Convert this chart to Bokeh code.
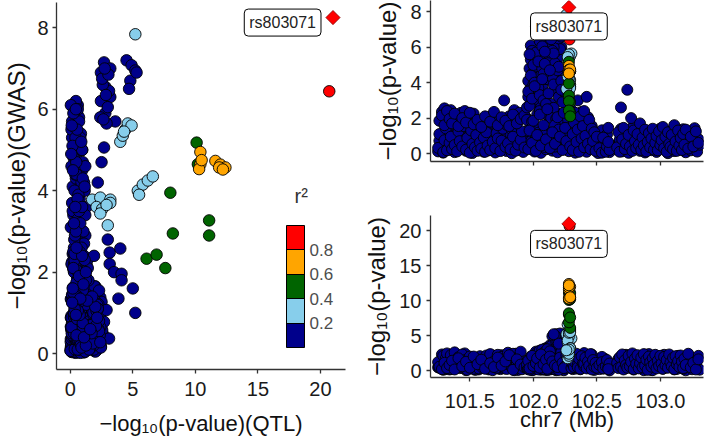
import pandas as pd
from bokeh.embed import file_html
from bokeh.layouts import column, row
from bokeh.models import (ColorBar, ColumnDataSource, FixedTicker, Label,
                          LinearColorMapper, PrintfTickFormatter, Range1d)
from bokeh.plotting import figure
from bokeh.resources import INLINE

FONT = "Liberation Sans"

# Lead variant of the locus
lead_snp = "rs803071"
lead_pos = 102.28
lead_gwas = 8.25
lead_qtl = 21.0

# SNPs in weak LD with the lead (r2 < 0.2): position (Mb), -log10 p GWAS, -log10 p QTL
left_flank_pos = [101.25, 101.26, 101.28, 101.29, 101.30, 101.30, 101.31, 101.32, 101.33, 101.34,
                  101.35, 101.35, 101.36, 101.37, 101.38, 101.39, 101.40, 101.41, 101.42, 101.43,
                  101.44, 101.45, 101.46, 101.47, 101.48, 101.49, 101.50, 101.51, 101.52, 101.53,
                  101.54, 101.55, 101.56, 101.57, 101.58, 101.59, 101.60, 101.61, 101.62, 101.63,
                  101.64, 101.65, 101.66, 101.67, 101.68, 101.69, 101.70, 101.71, 101.72, 101.73,
                  101.74, 101.75, 101.76, 101.77, 101.78, 101.79, 101.80, 101.81, 101.82, 101.83,
                  101.84, 101.85, 101.86, 101.87, 101.88, 101.89, 101.90, 101.91, 101.93, 101.94]
left_flank_gwas = [0.32, 1.10, 2.35, 0.08, 0.75, 2.55, 1.42, 0.18, 2.20, 0.60,
                   2.45, 0.95, 0.25, 1.80, 0.48, 2.10, 0.12, 1.25, 0.70, 2.30,
                   0.40, 1.55, 2.40, 0.22, 0.88, 1.95, 0.05, 1.30, 0.55, 2.25,
                   0.35, 1.05, 0.15, 1.60, 0.62, 0.28, 1.45, 0.90, 0.10, 1.20,
                   0.45, 2.05, 0.20, 1.75, 0.66, 2.20, 0.30, 1.15, 0.85, 1.90,
                   0.14, 0.72, 1.40, 3.00, 0.38, 1.62, 0.58, 2.10, 0.24, 1.35,
                   0.95, 2.45, 0.16, 1.70, 0.50, 2.30, 0.78, 1.25, 0.34, 2.05]
left_flank_qtl = [1.20, 0.40, 0.30, 2.10, 0.85, 0.55, 1.70, 2.45, 0.90, 0.15,
                  0.20, 2.20, 1.35, 0.60, 2.60, 0.75, 1.05, 1.90, 0.35, 0.45,
                  2.30, 0.80, 1.10, 1.55, 0.10, 1.00, 2.00, 0.50, 1.45, 0.25,
                  1.80, 0.65, 1.25, 0.30, 2.05, 0.95, 0.42, 1.60, 0.70, 2.15,
                  1.15, 0.28, 2.35, 0.90, 0.05, 0.60, 1.50, 0.38, 2.25, 1.20,
                  0.82, 1.95, 0.55, 0.70, 1.40, 0.22, 2.55, 0.85, 1.10, 0.48,
                  2.40, 0.35, 1.75, 1.05, 0.60, 0.95, 2.70, 0.18, 1.30, 1.10]

# Shoulder SNPs either side of the peak (moderate GWAS signal)
shoulder_pos = [101.26, 101.28, 101.30, 101.32, 101.34, 101.36, 101.38, 101.41, 101.44, 101.47,
                101.50, 101.53, 101.56, 101.59, 101.62, 101.66, 101.69, 101.72, 101.75, 101.78,
                101.81, 101.84, 101.87, 101.90, 101.93, 102.31, 102.33, 102.36, 102.38, 102.41,
                102.43, 102.46]
shoulder_gwas = [1.85, 2.15, 1.60, 2.40, 1.95, 1.70, 2.25, 1.55, 2.00, 1.75,
                 2.30, 1.65, 1.90, 1.50, 2.10, 1.80, 2.35, 1.60, 2.05, 1.85,
                 1.55, 2.20, 1.70, 1.95, 2.15, 1.90, 2.20, 1.65, 2.35, 1.80,
                 2.05, 1.55]
shoulder_qtl = [0.55, 0.20, 1.10, 0.35, 0.80, 1.40, 0.15, 1.75, 0.60, 1.25,
                0.40, 2.00, 0.90, 1.55, 0.25, 1.05, 0.50, 1.85, 0.70, 1.30,
                2.20, 0.10, 1.60, 0.85, 0.45, 1.15, 0.30, 1.95, 0.65, 1.45,
                0.75, 2.30]

# GWAS peak SNPs with little QTL signal
peak_pos = [101.95, 101.96, 101.96, 101.97, 101.97, 101.98, 101.98, 101.99, 101.99, 102.00,
            102.00, 102.01, 102.01, 102.02, 102.03, 102.03, 102.04, 102.05,
            102.06, 102.07, 102.08, 102.09, 102.10, 102.11, 102.12, 102.12, 102.13, 102.14,
            102.14, 102.15, 102.16, 102.17, 102.18, 102.18, 102.19, 102.20, 102.21, 102.22,
            102.23, 102.24,
            101.95, 101.96, 101.97, 101.98, 101.99, 102.00, 102.01, 102.02, 102.03, 102.04,
            102.05, 102.06, 102.07, 102.08, 102.09, 102.10, 102.11, 102.12, 102.13, 102.14,
            102.15, 102.16, 102.17, 102.18, 102.19, 102.20, 102.21, 102.22, 102.23, 102.24,
            101.97, 101.99, 102.01, 102.04, 102.08, 102.12, 102.16, 102.20, 102.22, 102.25]
peak_gwas = [2.6, 3.2, 4.1, 3.6, 4.8, 5.3, 6.1, 4.5, 5.8, 3.9,
             5.5, 2.9, 4.9, 3.4, 5.1, 4.3, 3.0, 2.4,
             4.4, 3.8, 5.6, 4.2, 5.9, 4.2, 6.0, 5.2, 5.7, 4.7,
             6.2, 5.4, 4.9, 3.6, 5.8, 6.1, 5.0, 5.6, 4.6, 6.0,
             5.3, 4.0,
             1.9, 3.5, 2.7, 4.4, 3.1, 5.0, 4.0, 5.7, 2.2, 3.7,
             3.3, 2.6, 4.8, 3.0, 5.3, 2.5, 4.6, 3.4, 5.5, 2.8,
             4.3, 3.9, 5.1, 2.3, 4.7, 3.2, 5.9, 4.1, 2.9, 3.5,
             5.6, 1.8, 3.8, 5.2, 4.5, 2.1, 6.0, 4.9, 3.6, 2.0]
peak_qtl = [0.30, 0.55, 0.20, 0.85, 0.40, 0.15, 0.60, 0.95, 0.35, 0.70,
            0.10, 1.20, 0.50, 0.25, 0.80, 0.45, 1.00, 0.65,
            0.40, 0.75, 0.20, 1.10, 0.55, 0.90, 0.30, 0.65, 0.15, 1.00,
            0.45, 0.85, 0.25, 1.30, 0.70, 0.05, 0.95, 0.35, 1.20, 0.60,
            0.80, 1.15,
            0.85, 0.20, 1.10, 0.50, 0.05, 0.95, 0.35, 0.70, 1.30, 0.15,
            0.60, 0.90, 0.28, 1.05, 0.42, 0.75, 0.10, 1.20, 0.55, 0.32,
            1.00, 0.65, 0.18, 1.35, 0.48, 0.80, 0.25, 1.15, 0.38, 0.70,
            0.12, 1.25, 0.58, 0.88, 0.22, 1.40, 0.45, 0.08, 0.95, 0.30]

# Peak SNPs carrying a moderate QTL signal
hump_pos = [102.02, 102.04, 102.06, 102.08, 102.10, 102.11, 102.12, 102.13, 102.15, 102.16,
            102.17, 102.15, 102.18, 102.19, 102.20, 102.21, 102.14, 102.22, 102.09, 102.13,
            102.07, 102.05, 102.10, 102.12, 102.16, 102.11, 102.14, 102.18, 102.19, 102.17,
            102.20, 102.16, 102.08, 102.09,
            102.03, 102.05, 102.07, 102.09, 102.11, 102.13]
hump_gwas = [7.15, 6.90, 6.55, 6.20, 6.30, 7.00, 5.90, 5.70, 5.80, 5.65,
             7.20, 7.08, 6.95, 6.70, 6.50, 6.90, 6.45, 6.60, 5.06, 4.70,
             4.20, 2.40, 2.80, 2.48, 2.58, 2.20, 2.00, 1.96, 1.80, 1.60,
             1.35, 1.00, 1.07, 0.37,
             6.75, 6.35, 6.05, 5.75, 6.85, 7.00]
hump_qtl = [2.70, 2.45, 2.80, 2.45, 3.20, 3.20, 2.80, 3.60, 2.40, 2.90,
            4.50, 4.90, 5.20, 4.80, 4.70, 5.30, 3.10, 2.60, 2.70, 2.50,
            2.20, 1.90, 3.00, 3.15, 4.00, 3.15, 3.50, 4.10, 4.10, 5.00,
            3.85, 5.20, 2.90, 3.10,
            2.55, 2.85, 3.00, 2.65, 3.05, 2.75]

# Background SNPs under the peak
peak_base_pos = [101.96, 101.97, 101.99, 102.00, 102.02, 102.03, 102.05, 102.06, 102.08, 102.10,
                 102.11, 102.13, 102.15, 102.17, 102.19, 102.21, 102.23, 102.25, 102.26, 102.24]
peak_base_gwas = [0.25, 1.30, 0.60, 1.85, 0.15, 1.05, 2.20, 0.45, 1.60, 0.80,
                  2.50, 0.30, 1.20, 0.55, 2.05, 0.95, 0.20, 1.45, 0.70, 2.30]
peak_base_qtl = [1.40, 0.30, 2.10, 0.65, 1.05, 1.75, 0.40, 2.30, 0.90, 1.55,
                 0.25, 2.00, 1.30, 0.75, 0.50, 1.85, 1.10, 0.60, 2.20, 0.35]

right_flank_pos = [102.29, 102.30, 102.31, 102.31, 102.32, 102.33, 102.34, 102.35, 102.35, 102.36,
                   102.37, 102.38, 102.39, 102.40, 102.40, 102.41, 102.42, 102.43, 102.44, 102.45,
                   102.46, 102.47, 102.48, 102.49, 102.50]
right_flank_gwas = [0.40, 2.45, 1.10, 0.20, 1.75, 2.30, 0.65, 1.35, 3.00, 0.10,
                    2.10, 0.85, 1.55, 0.35, 2.40, 1.00, 3.20, 0.55, 1.90, 0.25,
                    1.40, 0.70, 1.20, 0.15, 0.95]
right_flank_qtl = [1.60, 0.35, 2.20, 0.90, 0.50, 1.15, 2.40, 0.80, 0.45, 1.70,
                   0.25, 2.05, 1.00, 0.60, 0.95, 1.85, 0.30, 1.30, 0.70, 2.35,
                   0.15, 1.50, 0.55, 1.10, 0.40]

sparse_pos = [102.52, 102.54, 102.55, 102.57, 102.58, 102.59, 102.60, 102.59]
sparse_gwas = [0.30, 0.05, 0.90, 0.10, 0.40, 1.45, 0.20, 0.65]
sparse_qtl = [0.80, 1.20, 0.30, 0.60, 1.50, 0.45, 1.00, 0.20]

distal_pos = [102.66, 102.67, 102.68, 102.69, 102.70, 102.71, 102.72, 102.73, 102.74, 102.75,
              102.76, 102.77, 102.78, 102.79, 102.80, 102.81, 102.82, 102.83, 102.84, 102.85,
              102.86, 102.87, 102.88, 102.89, 102.90, 102.91, 102.92, 102.93, 102.94, 102.95,
              102.96, 102.97, 102.98, 102.99, 103.00, 103.01, 103.02, 103.03, 103.04, 103.05,
              103.06, 103.07, 103.08, 103.09, 103.10, 103.11, 103.12, 103.13, 103.14, 103.15,
              103.16, 103.17, 103.18, 103.19, 103.20, 103.22, 103.24, 103.26, 103.28, 103.30]
distal_gwas = [0.35, 1.20, 0.10, 2.60, 0.80, 1.45, 0.25, 0.55, 3.60, 1.05,
               0.40, 2.00, 0.15, 1.30, 0.70, 0.30, 1.10, 0.50, 1.70, 0.20,
               0.90, 0.45, 1.35, 0.12, 0.65, 1.15, 0.35, 0.85, 1.40, 0.22,
               0.60, 1.00, 0.18, 1.25, 0.48, 0.75, 1.50, 0.30, 0.95, 0.10,
               1.20, 0.55, 0.38, 1.05, 0.25, 1.60, 0.68, 0.15, 1.30, 0.45,
               0.88, 0.20, 1.10, 0.50, 1.35, 0.28, 0.95, 0.40, 1.25, 0.60]
distal_qtl = [1.10, 0.35, 1.90, 0.50, 2.30, 0.15, 1.45, 0.80, 0.40, 2.10,
              0.60, 1.25, 2.45, 0.20, 1.70, 0.95, 2.20, 0.30, 1.05, 1.85,
              0.45, 2.35, 0.70, 1.55, 0.10, 2.00, 1.20, 0.55, 1.75, 0.85,
              2.25, 0.30, 1.40, 0.65, 2.10, 1.00, 0.25, 1.95, 0.75, 1.50,
              0.40, 2.30, 1.15, 0.60, 1.80, 0.20, 2.05, 0.90, 1.35, 0.50,
              2.15, 1.25, 0.35, 1.70, 0.80, 2.40, 0.45, 1.10, 0.15, 1.60]

# The bulk of weakly associated SNPs across the whole window
bulk_pos = [101.25, 101.29, 101.34, 101.38, 101.43, 101.47, 101.52, 101.56, 101.61, 101.65,
            101.70, 101.74, 101.79, 101.83, 101.88, 101.92, 101.97, 102.01, 102.06, 102.10,
            102.15, 102.19, 102.24, 102.28, 102.33, 102.37, 102.42, 102.46, 102.51, 102.55,
            102.60, 102.66, 102.70, 102.75, 102.79, 102.84, 102.88, 102.93, 102.97, 103.02,
            103.06, 103.11, 103.15, 103.20, 103.24, 103.29,
            101.27, 101.31, 101.36, 101.40, 101.45, 101.49, 101.54, 101.58, 101.63, 101.67,
            101.72, 101.76, 101.81, 101.85, 101.90, 101.94, 101.99, 102.03, 102.08, 102.12,
            102.17, 102.21, 102.26, 102.30, 102.35, 102.39, 102.44, 102.48, 102.53, 102.57,
            102.67, 102.72, 102.77, 102.81, 102.86, 102.90, 102.95, 102.99, 103.04, 103.08,
            103.13, 103.17, 103.22, 103.26, 103.31,
            101.26, 101.30, 101.35, 101.39, 101.44, 101.48, 101.53, 101.57, 101.62, 101.66,
            101.71, 101.75, 101.80, 101.84, 101.89, 101.93, 101.98, 102.02, 102.07, 102.11,
            102.16, 102.20, 102.25, 102.29, 102.34, 102.38, 102.43, 102.47, 102.52, 102.56,
            102.68, 102.71, 102.76, 102.80, 102.85, 102.89, 102.94, 102.98, 103.03, 103.07,
            103.12, 103.16, 103.21, 103.25, 103.30,
            101.28, 101.32, 101.37, 101.41, 101.46, 101.50, 101.55, 101.59, 101.64, 101.68,
            101.73, 101.77, 101.82, 101.86, 101.91, 101.95, 102.00, 102.04, 102.09, 102.13,
            102.18, 102.22, 102.27, 102.31, 102.36, 102.40, 102.45, 102.49, 102.54, 102.58,
            102.69, 102.73, 102.78, 102.82, 102.87, 102.91, 102.96, 103.00, 103.05, 103.09,
            103.14, 103.18, 103.23, 103.27]
bulk_gwas = [0.12, 0.05, 0.22, 0.08, 0.30, 0.15, 0.03, 0.25, 0.10, 0.18,
             0.06, 0.28, 0.14, 0.02, 0.20, 0.09, 0.33, 0.11, 0.04, 0.24,
             0.16, 0.07, 0.29, 0.13, 0.05, 0.21, 0.10, 0.26, 0.03, 0.17,
             0.08, 0.23, 0.12, 0.04, 0.31, 0.15, 0.06, 0.19, 0.09, 0.27,
             0.02, 0.14, 0.22, 0.07, 0.18, 0.11,
             0.42, 0.55, 0.35, 0.60, 0.48, 0.38, 0.62, 0.45, 0.32, 0.57,
             0.40, 0.52, 0.64, 0.36, 0.50, 0.44, 0.58, 0.33, 0.47, 0.61,
             0.39, 0.54, 0.43, 0.63, 0.37, 0.51, 0.46, 0.59, 0.34, 0.49,
             0.56, 0.41, 0.60, 0.36, 0.53, 0.45, 0.38, 0.62, 0.47, 0.33,
             0.55, 0.42, 0.58, 0.40, 0.50,
             0.72, 0.88, 0.66, 0.95, 0.80, 0.70, 0.92, 0.76, 0.98, 0.68,
             0.85, 0.74, 0.90, 0.67, 0.82, 0.96, 0.71, 0.87, 0.78, 0.93,
             0.69, 0.84, 0.99, 0.75, 0.89, 0.73, 0.81, 0.94, 0.66, 0.86,
             0.77, 0.91, 0.70, 0.83, 0.97, 0.74, 0.88, 0.68, 0.79, 0.92,
             0.72, 0.85, 0.95, 0.76, 0.81,
             1.10, 1.35, 1.02, 1.48, 1.20, 1.05, 1.40, 1.15, 1.30, 1.08,
             1.45, 1.25, 1.12, 1.38, 1.03, 1.28, 1.50, 1.18, 1.33, 1.06,
             1.42, 1.22, 1.10, 1.36, 1.01, 1.27, 1.44, 1.14, 1.31, 1.07,
             1.39, 1.21, 1.47, 1.16, 1.34, 1.04, 1.26, 1.41, 1.11, 1.29,
             1.09, 1.37, 1.19, 1.43]
bulk_qtl = [0.45, 0.10, 0.80, 0.25, 1.05, 0.05, 0.60, 0.35, 0.95, 0.15,
            0.70, 0.20, 1.15, 0.40, 0.08, 0.85, 0.30, 0.55, 0.12, 1.00,
            0.22, 0.65, 0.04, 0.90, 0.38, 0.18, 0.75, 0.50, 1.10, 0.28,
            0.02, 0.62, 0.33, 0.88, 0.14, 0.48, 1.20, 0.07, 0.58, 0.26,
            0.82, 0.16, 0.44, 0.03, 0.68, 0.36,
            1.30, 0.20, 0.75, 1.55, 0.40, 0.95, 0.10, 1.70, 0.55, 1.15,
            0.30, 1.45, 0.65, 0.05, 1.25, 0.85, 0.25, 1.60, 0.45, 1.05,
            0.15, 1.35, 0.70, 1.80, 0.35, 0.90, 1.50, 0.08, 1.20, 0.60,
            1.65, 0.28, 1.00, 0.50, 1.40, 0.18, 0.80, 1.75, 0.42, 1.10,
            0.22, 1.58, 0.68, 1.28, 0.12,
            0.60, 1.90, 0.25, 1.35, 2.10, 0.80, 1.55, 0.15, 1.05, 1.85,
            0.45, 2.20, 0.95, 1.65, 0.35, 1.25, 2.00, 0.70, 1.45, 0.10,
            1.75, 0.55, 2.15, 1.10, 0.30, 1.95, 0.85, 1.50, 0.20, 1.70,
            1.00, 2.05, 0.40, 1.30, 0.65, 1.80, 0.05, 1.20, 2.25, 0.50,
            1.60, 0.90, 1.40, 0.18, 2.10,
            2.30, 0.40, 1.60, 0.85, 2.45, 1.20, 0.15, 1.90, 0.65, 2.15,
            1.05, 0.30, 1.75, 2.40, 0.55, 1.35, 0.90, 2.20, 0.10, 1.50,
            2.05, 0.75, 1.25, 0.20, 1.85, 2.50, 0.60, 1.10, 1.95, 0.35,
            1.40, 2.25, 0.80, 1.65, 0.05, 2.35, 1.00, 0.45, 1.80, 0.95,
            2.10, 0.25, 1.55, 0.70]
weak_ld_r2 = 0.05

# SNPs in LD with the lead variant
ld_pos = [102.26, 102.27, 102.28, 102.29, 102.30, 102.28, 102.27, 102.28, 102.29, 102.28,
          102.27, 102.29, 102.27, 102.28, 102.29, 102.28, 102.27, 102.28, 102.29, 102.28,
          102.26,
          102.28, 102.29, 102.28, 102.28, 102.29, 102.28, 102.29, 102.28, 102.29,
          102.28, 102.29, 102.28, 102.28, 102.29, 102.28, 102.28, 102.29, 102.28,
          102.285]
ld_gwas = [7.84, 5.20, 5.35, 5.50, 5.65, 5.60, 5.45, 4.00, 4.15, 4.25,
           4.35, 3.90, 3.78, 3.83, 3.78, 3.60, 3.55, 3.44, 3.70, 3.15,
           3.65,
           5.18, 4.65, 3.95, 3.27, 2.90, 2.95, 2.33, 2.43, 2.10,
           4.95, 4.65, 4.53, 4.73, 4.64, 4.57, 4.57, 4.75, 4.52,
           6.44]
ld_qtl = [5.20, 4.00, 4.20, 4.40, 4.60, 4.90, 4.30, 5.40, 5.80, 6.20,
          6.60, 5.50, 1.75, 2.40, 3.20, 2.10, 2.55, 2.40, 3.20, 3.00,
          2.90,
          10.1, 10.2, 8.0, 11.1, 11.1, 8.2, 6.1, 6.9, 7.6,
          10.4, 10.4, 10.3, 11.6, 12.0, 12.4, 11.9, 10.5, 12.2,
          20.7]
ld_r2 = [0.3] * 21 + [0.5] * 9 + [0.7] * 9 + [0.9]

r2_breaks = [0.2, 0.4, 0.6, 0.8]
r2_palette = ["#00008B", "#87CEEB", "#006400", "#FFA500", "#FF0000"]

# ---- assemble the SNP table ----
weak_groups = [
    (bulk_pos, bulk_gwas, bulk_qtl),
    (left_flank_pos, left_flank_gwas, left_flank_qtl),
    (shoulder_pos, shoulder_gwas, shoulder_qtl),
    (peak_pos, peak_gwas, peak_qtl),
    (hump_pos, hump_gwas, hump_qtl),
    (peak_base_pos, peak_base_gwas, peak_base_qtl),
    (right_flank_pos, right_flank_gwas, right_flank_qtl),
    (sparse_pos, sparse_gwas, sparse_qtl),
    (distal_pos, distal_gwas, distal_qtl),
]
frames = [pd.DataFrame({"pos": p_, "gwas": g_, "qtl": q_, "r2": weak_ld_r2})
          for p_, g_, q_ in weak_groups]
frames.append(pd.DataFrame({"pos": ld_pos, "gwas": ld_gwas, "qtl": ld_qtl, "r2": ld_r2}))
snps = pd.concat(frames, ignore_index=True)
snps["color"] = [r2_palette[sum(r >= b for b in r2_breaks)] for r in snps["r2"]]
snps = snps.sort_values("r2", kind="stable").reset_index(drop=True)

src = ColumnDataSource(snps)
lead_src = ColumnDataSource(dict(pos=[lead_pos], gwas=[lead_gwas], qtl=[lead_qtl]))


def style(p, xticks, yticks, xlabel, ylabel):
    p.xgrid.visible = False
    p.ygrid.visible = False
    p.outline_line_color = None
    p.background_fill_color = "white"
    p.xaxis.ticker = FixedTicker(ticks=xticks)
    p.yaxis.ticker = FixedTicker(ticks=yticks)
    p.xaxis.axis_label = xlabel
    p.yaxis.axis_label = ylabel
    for ax in (p.xaxis[0], p.yaxis[0]):
        ax.axis_line_color = "#333333"
        ax.axis_line_width = 1.3
        ax.major_tick_line_color = "#333333"
        ax.major_tick_line_width = 1.3
        ax.major_tick_in = 0
        ax.major_tick_out = 4
        ax.minor_tick_line_color = None
        ax.major_label_text_font = FONT
        ax.major_label_text_font_size = "20px"
        ax.major_label_text_color = "#1a1a1a"
        ax.axis_label_text_font = FONT
        ax.axis_label_text_font_style = "normal"
        ax.axis_label_text_color = "#111111"
    p.xaxis.axis_label_text_font_size = "22px"
    p.yaxis.axis_label_text_font_size = "24px"


def snp_points(p, xcol, ycol, size):
    p.scatter(x=xcol, y=ycol, source=src, size=size, fill_color="color",
              line_color="black", line_width=0.9)
    p.scatter(x=xcol, y=ycol, source=lead_src, marker="square", angle=0.785398,
              size=10, fill_color="#FF0000", line_color="#8B0000", line_width=0.8)


def lead_label(x, y, **kw):
    return Label(x=x, y=y, text=lead_snp, text_font=FONT, text_font_size="16px",
                 text_color="#222222", background_fill_color="white",
                 border_line_color="black", border_line_width=1, padding=5,
                 border_radius=4, **kw)


# ---- QTL vs GWAS scatter ----
left = figure(width=360, height=438, output_backend="svg", toolbar_location=None,
              x_range=Range1d(-1.1, 22.0), y_range=Range1d(-0.39, 8.62),
              min_border_left=52, min_border_right=15, min_border_top=2,
              min_border_bottom=69)
style(left, [0, 5, 10, 15, 20], [0, 2, 4, 6, 8],
      "\u2212log\u2081\u2080(p-value)(QTL)", "\u2212log\u2081\u2080(p-value)(GWAS)")
left.xaxis.major_label_standoff = 8
left.xaxis.axis_label_standoff = 12
left.yaxis.major_label_standoff = 4
left.yaxis.axis_label_standoff = 4
snp_points(left, "qtl", "gwas", 11.5)
left.add_layout(lead_label(lead_qtl, lead_gwas, text_align="right",
                           text_baseline="middle", x_offset=-12, y_offset=-5))

# r2 colour key: ticks drawn across the bar separate the five bins
mapper = LinearColorMapper(palette=r2_palette, low=0, high=1)
cbar = ColorBar(color_mapper=mapper, ticker=FixedTicker(ticks=r2_breaks),
                width=18, height=122, location=(230, 22), padding=0,
                major_label_text_font=FONT, major_label_text_font_size="17px",
                major_label_text_color="#4d4d4d",
                major_tick_line_color="black", major_tick_line_width=1,
                major_tick_in=18, major_tick_out=0,
                bar_line_color="black", bar_line_width=1,
                background_fill_alpha=0, border_line_color=None, label_standoff=5)
left.add_layout(cbar)
left.add_layout(Label(x=238, y=163, x_units="screen", y_units="screen", text="r\u00b2",
                      text_font=FONT, text_font_size="20px", text_color="#333333",
                      text_baseline="bottom"))

# ---- regional plots ----
xr = Range1d(101.19, 103.34)
pos_ticks = [101.5, 102.0, 102.5, 103.0]

top = figure(width=349, height=200, output_backend="svg", toolbar_location=None,
             x_range=xr, y_range=Range1d(-0.45, 8.64),
             min_border_left=66, min_border_right=6, min_border_top=0,
             min_border_bottom=39)
style(top, pos_ticks, [0, 2, 4, 6, 8], None, "\u2212log\u2081\u2080(p-value)")
top.xaxis.major_label_overrides = {t: "" for t in pos_ticks}
top.yaxis.major_label_standoff = 5
top.yaxis.axis_label_standoff = 6
snp_points(top, "pos", "gwas", 11)
top.add_layout(lead_label(lead_pos, lead_gwas, text_align="center",
                          text_baseline="middle", y_offset=-19))

bottom = figure(width=349, height=238, output_backend="svg", toolbar_location=None,
                x_range=xr, y_range=Range1d(-1.0, 22.2),
                min_border_left=66, min_border_right=6, min_border_top=15,
                min_border_bottom=61)
style(bottom, pos_ticks, [0, 5, 10, 15, 20], "chr7 (Mb)", "\u2212log\u2081\u2080(p-value)")
bottom.xaxis.formatter = PrintfTickFormatter(format="%.1f")
bottom.xaxis.major_label_standoff = 12
bottom.xaxis.axis_label_standoff = -4
bottom.yaxis.major_label_standoff = 5
bottom.yaxis.axis_label_standoff = 6
snp_points(bottom, "pos", "qtl", 11)
bottom.add_layout(lead_label(lead_pos, lead_qtl, text_align="center",
                             text_baseline="middle", y_offset=-20))

layout = row(left, column(top, bottom))
open("out.html", "w").write(file_html(layout, INLINE))
